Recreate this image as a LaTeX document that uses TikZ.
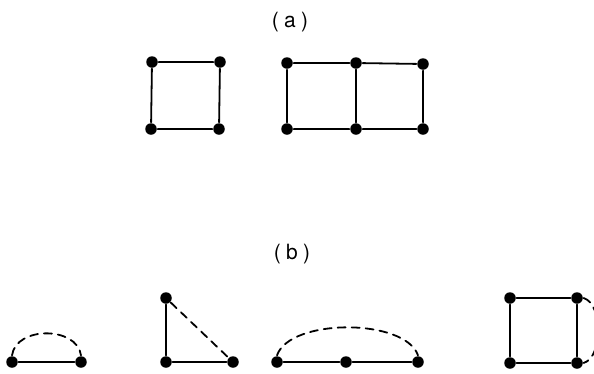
\documentclass[tikz,border=0pt]{standalone}
\usepackage{fontspec}
\setsansfont{TeX Gyre Heros}
\usetikzlibrary{backgrounds}

\begin{document}
\begin{tikzpicture}[
  line cap=round,
  line join=round,
  line width=1.8pt,
  x=1pt,
  y=-1pt,
  dot/.style={circle, fill=black, inner sep=0pt, minimum size=11.5pt},
  sublabel/.style={font=\sffamily\fontsize{21}{24}\selectfont},
  bond/.style={draw, dash pattern=on 8pt off 6pt},
]
  \useasboundingbox (0,0) rectangle (594,373);
  \clip (0,0) rectangle (594,373);

  % (a)
  \node[sublabel] (la) at (290,22) {(\hspace{0.25em}a\hspace{0.25em})};

  \node[dot] (s1) at (152,62) {};
  \node[dot] (s2) at (220,62) {};
  \node[dot] (s3) at (151,129) {};
  \node[dot] (s4) at (219,129) {};
  \draw (s1) -- (s2) -- (s4) -- (s3) -- (s1);

  \node[dot] (d1) at (287,63) {};
  \node[dot] (d2) at (356,63) {};
  \node[dot] (d3) at (423,64) {};
  \node[dot] (d4) at (287,129) {};
  \node[dot] (d5) at (356,129) {};
  \node[dot] (d6) at (423,129) {};
  \draw (d1) -- (d2) -- (d3) -- (d6) -- (d5) -- (d4) -- (d1);
  \draw (d2) -- (d5);

  % (b)
  \node[sublabel] (lb) at (292,254) {(\hspace{0.25em}b\hspace{0.25em})};

  \node[dot] (p1) at (12,362) {};
  \node[dot] (p2) at (81,362) {};
  \draw (p1) -- (p2);
  \draw[bond] (p1.north) .. controls (16,326) and (77,326) .. (p2.north);

  \node[dot] (t1) at (166,298) {};
  \node[dot] (t2) at (166,362) {};
  \node[dot] (t3) at (233,362) {};
  \draw (t1) -- (t2) -- (t3);
  \draw[bond] (t1) -- (t3);

  \node[dot] (c1) at (277,362) {};
  \node[dot] (c2) at (346,362) {};
  \node[dot] (c3) at (418,362) {};
  \draw (c1) -- (c2) -- (c3);
  \draw[bond] (c1.north) .. controls (290,318) and (405,318) .. (c3.north);

  \node[dot] (q1) at (510,298) {};
  \node[dot] (q2) at (577,298) {};
  \node[dot] (q3) at (510,363) {};
  \node[dot] (q4) at (577,363) {};
  \draw (q1) -- (q2) -- (q4) -- (q3) -- (q1);
  \draw[bond] (q2.east) .. controls (603,304) and (603,357) .. (q4.east);

\end{tikzpicture}
\end{document}
